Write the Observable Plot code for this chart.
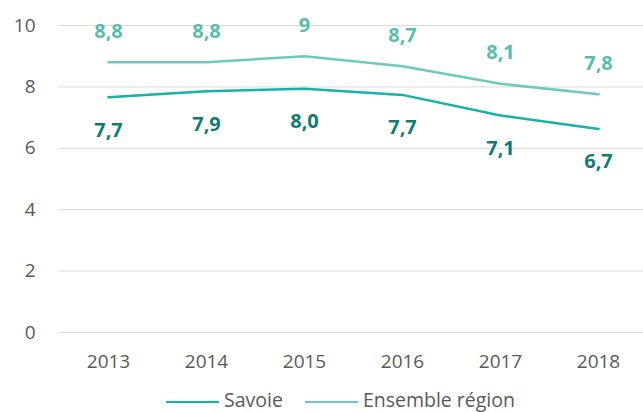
<!DOCTYPE html>
<html>
<head>
<meta charset="utf-8">
<script src="https://cdn.jsdelivr.net/npm/d3@7"></script>
<script src="https://cdn.jsdelivr.net/npm/@observablehq/plot@0.6"></script>
<style>
  html, body { margin: 0; padding: 0; background: #fff; }
  #chart { width: 643px; font-family: "Open Sans", sans-serif; }
  .legend { display: flex; justify-content: center; align-items: center; height: 26px; margin-top: 12px; font-size: 19.5px; line-height: 22px; color: #595959; padding-left: 38px; }
  .legend .item { display: flex; align-items: center; margin: 0 11px; }
  .legend .sw { display: inline-block; width: 53px; height: 0; border-top: 2.5px solid; margin-right: 5px; margin-top: 4px; }
</style>
</head>
<body>
<div id="chart"></div>
<script>
const years = ["2013", "2014", "2015", "2016", "2017", "2018"];
const savoie = [7.66, 7.86, 7.94, 7.74, 7.07, 6.63];
const region = [8.8, 8.8, 9.0, 8.67, 8.1, 7.76];
const savoieLabels = ["7,7", "7,9", "8,0", "7,7", "7,1", "6,7"];
const regionLabels = ["8,8", "8,8", "9", "8,7", "8,1", "7,8"];
const yTicks = [0, 2, 4, 6, 8, 10];
const seriesNames = ["Savoie", "Ensemble région"];

const colors = { line1: "#17B1A7", label1: "#137A72", line2: "#6DC8C0", label2: "#5CBAAE" };

const dataS = years.map((y, i) => ({ year: y, v: savoie[i], label: savoieLabels[i] }));
const dataR = years.map((y, i) => ({ year: y, v: region[i], label: regionLabels[i] }));

const plot = Plot.plot({
  width: 643,
  height: 375,
  marginLeft: 58,
  marginRight: -4,
  marginTop: 25,
  marginBottom: 43,
  style: { fontFamily: "Open Sans, sans-serif", fontSize: "19px", color: "#595959", background: "#fff" },
  x: { type: "point", domain: years, padding: 0.5, label: null },
  y: { domain: [0, 10], ticks: yTicks, label: null },
  marks: [
    Plot.ruleY(yTicks, { stroke: "#D9D9D9", strokeWidth: 1 }),
    Plot.axisY({ ticks: yTicks, tickSize: 0, tickPadding: 23, label: null, fontSize: 19, fill: "#595959" }),
    Plot.axisX({ tickSize: 0, tickPadding: 22, label: null, fontSize: 19, fill: "#595959" }),
    Plot.line(dataR, { x: "year", y: "v", stroke: colors.line2, strokeWidth: 2.5 }),
    Plot.line(dataS, { x: "year", y: "v", stroke: colors.line1, strokeWidth: 2.5 }),
    Plot.text(dataR, { x: "year", y: "v", text: "label", dy: -31, fill: colors.label2, fontSize: 20, fontWeight: "bold" }),
    Plot.text(dataS, { x: "year", y: "v", text: "label", dy: 33, fill: colors.label1, fontSize: 20, fontWeight: "bold" })
  ]
});

const chart = document.getElementById("chart");
chart.appendChild(plot);

const legend = document.createElement("div");
legend.className = "legend";
[[seriesNames[0], colors.line1], [seriesNames[1], colors.line2]].forEach(([name, c]) => {
  const item = document.createElement("span");
  item.className = "item";
  const sw = document.createElement("span");
  sw.className = "sw";
  sw.style.borderTopColor = c;
  const t = document.createElement("span");
  t.textContent = name;
  item.appendChild(sw);
  item.appendChild(t);
  legend.appendChild(item);
});
chart.appendChild(legend);
</script>
</body>
</html>
